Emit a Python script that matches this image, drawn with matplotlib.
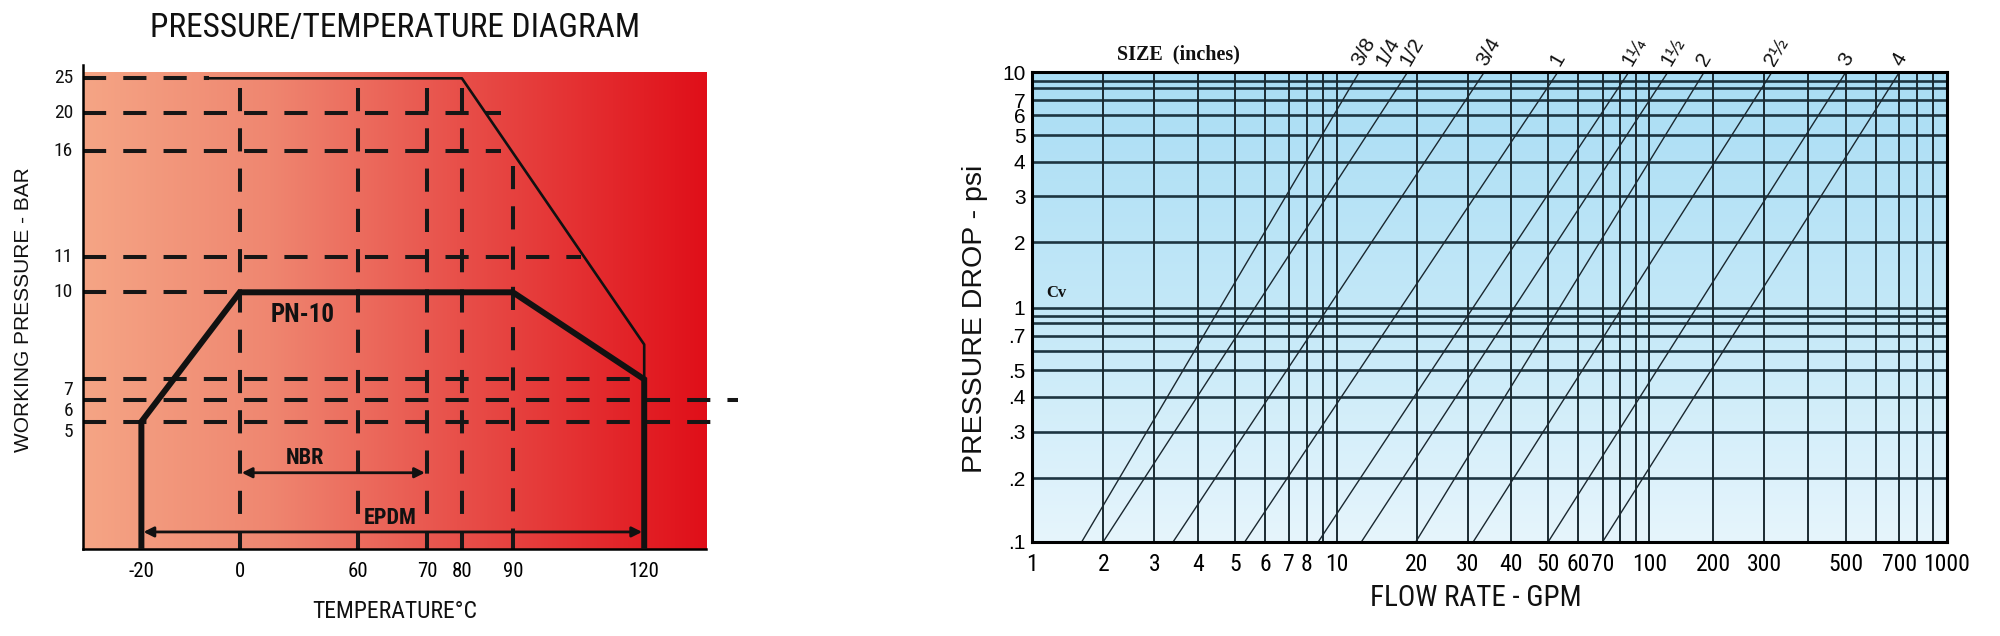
import numpy as np
import matplotlib
matplotlib.use("Agg")
import matplotlib.pyplot as plt
from matplotlib import font_manager, transforms
from matplotlib.colors import LinearSegmentedColormap

# ---------------- left chart: pressure / temperature diagram ----------------
temp_ticks = [-20, 0, 60, 70, 80, 90, 120]
pressure_ticks = [25, 20, 16, 11, 10, 7, 6, 5]

# heavy PN-10 envelope
pn10_temp = [-20, -20, 0, 90, 120, 120]
pn10_press = [0, 5, 10, 10, 7, 0]

# light upper envelope
upper_temp = [-6.2, 80, 120, 120]
upper_press = [25, 25, 8.2, 7]

# dashed horizontal guides (pressure, temperature where they stop)
hguide_press = [25, 20, 16, 11, 10, 7, 6, 5]
hguide_end = [-6.2, 87.6, 87.6, 105.5, 0, 120, 141.5, 138.1]

# dashed vertical guides (temperature, pressure where they start)
vguide_temp = [0, 60, 70, 80, 90]
vguide_top = [23.6, 23.6, 23.6, 23.6, 15.3]

nbr_range = [0, 70]
nbr_level = 3.0
epdm_range = [-20, 120]
epdm_level = 0.68

# ---------------- right chart: pressure drop vs flow rate ----------------
flow_grid = [1, 2, 3, 4, 5, 6, 7, 8, 9, 10, 20, 30, 40, 50, 60, 70, 80, 90,
             100, 200, 300, 400, 500, 600, 700, 800, 900, 1000]
flow_ticks = [1, 2, 3, 4, 5, 6, 7, 8, 10, 20, 30, 40, 50, 60, 70, 100, 200,
              300, 500, 700, 1000]
drop_grid = [0.1, 0.2, 0.3, 0.4, 0.5, 0.6, 0.7, 0.8, 0.9, 1,
             2, 3, 4, 5, 6, 7, 8, 9, 10]
drop_ticks = [10, 7, 6, 5, 4, 3, 2, 1, 0.7, 0.5, 0.4, 0.3, 0.2, 0.1]
drop_labels = ["10", "7", "6", "5", "4", "3", "2", "1", ".7", ".5", ".4", ".3", ".2", ".1"]

# valve size lines: flow at 0.1 psi and at 10 psi
cv_flow_low = [1.70, 2.0, 3.43, 5.33, 8.73, 13.1, 19.9, 31.3, 50, 70]
cv_flow_high = [12.8, 18.85, 33.8, 53.2, 85.4, 128.8, 185.5, 317, 500, 700]
size_labels = ["3/8", "1/4", "1/2", "3/4", "1", "1¼", "1½", "2", "2½", "3", "4"]
size_label_flow = [12.8, 15.8, 18.85, 33.8, 53.2, 85.4, 128.8, 185.5, 317, 500, 700]

# ---------------- layout of the hand-drawn (non uniform) axes ----------------
W, H = 2000, 636
temp_knot_px = [141.4, 239.7, 357.7, 427.0, 461.9, 512.9, 644.2]
press_knots = [0, 5, 6, 7, 10, 11, 16, 20, 25]
press_knot_px = [0, 127.6, 149, 170, 257, 292.6, 398.6, 436.6, 471]
flow_knot_px = [1031.7, 1103.3, 1154.3, 1198.3, 1235, 1265, 1289.3, 1306.7, 1322.7,
                1336.7, 1416.7, 1467.7, 1511, 1548.3, 1577.7, 1602.7, 1620, 1636,
                1649.3, 1713.3, 1764.3, 1808.3, 1845.7, 1875.7, 1899.3, 1916.7,
                1932.7, 1946.7]
drop_knot_px = [0, 63.4, 110, 145, 171.7, 190.7, 206, 218.4, 225.7, 234,
                299.4, 345.7, 380, 406.7, 426.7, 441.7, 454, 461, 469.4]

installed = {f.name for f in font_manager.fontManager.ttflist}


def first_font(names, default):
    for n in names:
        if n in installed:
            return n
    return default


NARROW = first_font(["Roboto Condensed", "Archivo Narrow", "PT Sans Narrow",
                     "Liberation Sans Narrow"], "Liberation Sans")
SANS = first_font(["Liberation Sans", "Arimo"], "DejaVu Sans")
SERIF = first_font(["Liberation Serif", "Tinos"], "DejaVu Serif")


def piecewise(vals, pos):
    vals = np.asarray(vals, float)
    pos = np.asarray(pos, float)

    def interp(x, a, b):
        x = np.asarray(x, float)
        y = np.interp(x, a, b)
        y = np.where(x < a[0], b[0] + (x - a[0]) * (b[1] - b[0]) / (a[1] - a[0]), y)
        y = np.where(x > a[-1], b[-1] + (x - a[-1]) * (b[-1] - b[-2]) / (a[-1] - a[-2]), y)
        return y

    return (lambda x: interp(x, vals, pos)), (lambda y: interp(y, pos, vals))


def box(x0, y0, x1, y1):
    return [x0 / W, 1 - y1 / H, (x1 - x0) / W, (y1 - y0) / H]


fig = plt.figure(figsize=(W / 100, H / 100), dpi=100)

# ---------- left chart ----------
left_box = box(82.6, 71.7, 705.7, 549.3)
red_cmap = LinearSegmentedColormap.from_list(
    "red", [(0, "#f5a585"), (0.3, "#ef8670"), (0.6, "#e8504a"), (0.85, "#e3272b"), (1, "#e00f19")])
bg = fig.add_axes(left_box, zorder=0)
bg.imshow(np.linspace(0, 1, 256)[None, :], cmap=red_cmap, aspect="auto",
          extent=(0, 1, 0, 1), interpolation="bicubic")
bg.axis("off")

ax = fig.add_axes(left_box, zorder=1)
ax.patch.set_alpha(0)
ax.set_xscale("function", functions=piecewise(temp_ticks, temp_knot_px))
ax.set_yscale("function", functions=piecewise(press_knots, press_knot_px))
ax.set_xlim(-31.96, 134.05)
ax.set_ylim(0, 25.96)

dash = (0, (5.75, 4.25))
for p, end in zip(hguide_press, hguide_end):
    ax.plot([-31.96, end], [p, p], ls=dash, lw=2.9, color="#161616",
            dash_capstyle="butt", clip_on=False, zorder=2)
for t, top in zip(vguide_temp, vguide_top):
    ax.plot([t, t], [top, 0], ls=dash, lw=2.9, color="#161616",
            dash_capstyle="butt", zorder=2)

ax.plot(upper_temp, upper_press, color="#111111", lw=1.9, zorder=3)
ax.plot(pn10_temp, pn10_press, color="#111111", lw=4.3, zorder=4,
        solid_joinstyle="miter")

for rng, lvl in [(nbr_range, nbr_level), (epdm_range, epdm_level)]:
    ax.annotate("", xy=(rng[1], lvl), xytext=(rng[0], lvl),
                arrowprops=dict(arrowstyle="<|-|>", lw=2.0, color="#111111",
                                mutation_scale=15, shrinkA=1.5, shrinkB=1.5), zorder=5)

ax.text(32.2, 9.22, "PN-10", family=NARROW, weight="bold", fontsize=18,
        ha="center", va="center", color="#111111")
ax.text(33.2, 3.58, "NBR", family=NARROW, weight="bold", fontsize=16,
        ha="center", va="center", color="#111111")
ax.text(64.7, 1.23, "EPDM", family=NARROW, weight="bold", fontsize=16,
        ha="center", va="center", color="#111111")

ax.set_xticks(temp_ticks, [str(t) for t in temp_ticks])
ax.tick_params(axis="x", length=0, pad=9, labelsize=15)
for lab in ax.get_xticklabels():
    lab.set_family(NARROW)
ax.set_yticks([])
ytrans = transforms.blended_transform_factory(ax.transAxes, ax.transData)
for p in pressure_ticks:
    tr = ytrans if p >= 10 else transforms.offset_copy(ytrans, fig=fig, y=-7.5, units="points")
    ax.text(-0.0154, p, str(p), transform=tr, ha="right", va="center",
            family=NARROW, fontsize=14, color="#111111")

for side in ["top", "right"]:
    ax.spines[side].set_visible(False)
ax.spines["left"].set_linewidth(1.8)
ax.spines["bottom"].set_linewidth(1.8)
ax.spines["left"].set_bounds(0, 26.9)

fig.text(395 / W, 1 - 28 / H, "PRESSURE/TEMPERATURE DIAGRAM", family=NARROW,
         fontsize=24, ha="center", va="center", color="#111111")
fig.text(395 / W, 1 - 611.7 / H, "TEMPERATURE°C", family=NARROW,
         fontsize=17, ha="center", va="center", color="#111111")
fig.text(24 / W, 1 - 310 / H, "WORKING PRESSURE - BAR", family=SANS,
         fontsize=15, rotation=90, ha="center", va="center", color="#111111")

# ---------- right chart ----------
right_box = box(1031.7, 72.3, 1946.7, 541.7)
blue_cmap = LinearSegmentedColormap.from_list(
    "blue", [(0, "#e6f5fc"), (0.5, "#c3e8f8"), (1, "#a9ddf4")])
bg2 = fig.add_axes(right_box, zorder=0)
bg2.imshow(np.linspace(1, 0, 256)[:, None], cmap=blue_cmap, aspect="auto",
           extent=(0, 1, 0, 1), interpolation="bicubic")
bg2.axis("off")

ax2 = fig.add_axes(right_box, zorder=1)
ax2.patch.set_alpha(0)
ax2.set_xscale("function", functions=piecewise(flow_grid, flow_knot_px))
ax2.set_yscale("function", functions=piecewise(drop_grid, drop_knot_px))
ax2.set_xlim(1, 1000)
ax2.set_ylim(0.1, 10)

ax2.hlines(drop_grid[1:-1], 1, 1000, color="#1d3541", lw=1.9, zorder=2)
ax2.vlines(flow_grid[1:-1], 0.1, 10, color="#1b2a31", lw=1.4, zorder=2)
for lo, hi in zip(cv_flow_low, cv_flow_high):
    ax2.plot([lo, hi], [0.1, 10], color="#1b2830", lw=1.0, zorder=3)

for lbl, q in zip(size_labels, size_label_flow):
    ax2.annotate(lbl, xy=(q, 10), xytext=(4, 2.5), textcoords="offset points",
                 rotation=60, rotation_mode="anchor", ha="left", va="bottom",
                 family=SANS, fontsize=15, color="#111111", annotation_clip=False)

ax2.set_xticks(flow_ticks, [str(f) for f in flow_ticks])
ax2.set_yticks(drop_ticks, drop_labels)
ax2.minorticks_off()
ax2.tick_params(axis="x", length=0, pad=8, labelsize=17)
ax2.tick_params(axis="y", length=0, pad=4.5, labelsize=15)
for lab in ax2.get_xticklabels():
    lab.set_family(NARROW)
for lab in ax2.get_yticklabels():
    lab.set_family(SANS)
for sp in ax2.spines.values():
    sp.set_linewidth(2.2)
    sp.set_zorder(4)

fig.text(1178.7 / W, 1 - 54.3 / H, "SIZE  (inches)", family=SERIF, weight="bold",
         fontsize=14.5, ha="center", va="center", color="#111111")
fig.text(1056 / W, 1 - 293 / H, "Cv", family=SERIF, weight="bold",
         fontsize=12, ha="center", va="center", color="#111111")
fig.text(1476 / W, 1 - 598 / H, "FLOW RATE - GPM", family=NARROW,
         fontsize=21, ha="center", va="center", color="#111111")
fig.text(975 / W, 1 - 319 / H, "PRESSURE DROP - psi", family=SANS,
         fontsize=20.5, rotation=90, ha="center", va="center", color="#111111")

fig.savefig("out.png", dpi=100)
